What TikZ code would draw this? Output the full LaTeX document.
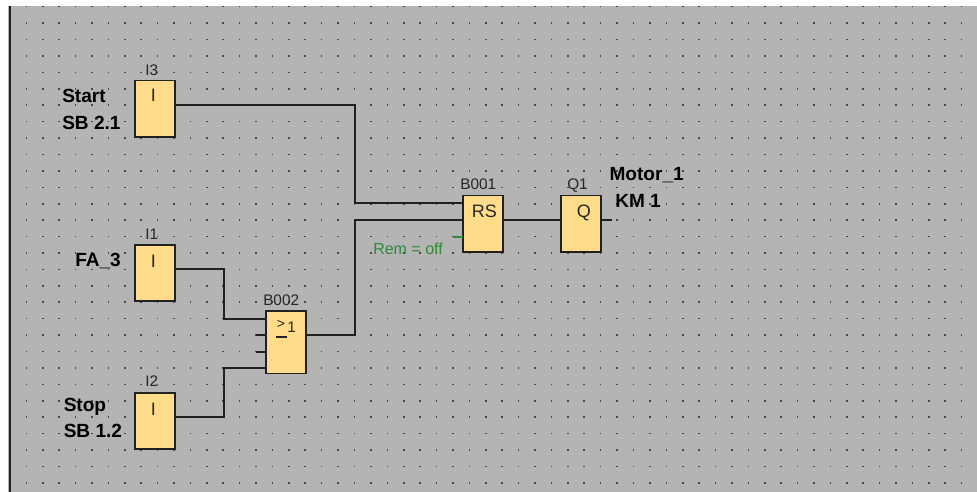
\documentclass[tikz,border=0pt]{standalone}
\usepackage{fontspec}
\setmainfont{Liberation Sans}
\definecolor{bggrey}{HTML}{B4B4B4}
\definecolor{blockfill}{HTML}{FFDC8A}
\definecolor{wirecol}{HTML}{202020}
\definecolor{remgreen}{HTML}{2E8B3A}
\tikzset{
  x=0.75pt,y=-0.75pt,
  block/.style={draw=wirecol,fill=blockfill,line width=1.2pt,rectangle,minimum width=30pt,inner sep=0pt,outer sep=0pt},
  wire/.style={draw=wirecol,line width=1.1pt},
  stub/.style={draw=wirecol,line width=1.1pt},
  greenstub/.style={draw=remgreen,line width=1.1pt},
  sym/.style={font=\fontsize{13.5}{14}\selectfont,text=black!85,inner sep=0pt,anchor=base west},
  tag/.style={font=\fontsize{11.5}{12}\selectfont,text=black!85,inner sep=0pt,anchor=base west},
  lab/.style={font=\fontsize{14.3}{15}\selectfont\bfseries,text=black,inner sep=0pt,anchor=base west},
}
\begin{document}
\begin{tikzpicture}
\useasboundingbox (0,0) rectangle (977,492);
\fill[white] (0,0) rectangle (977,492);
\fill[bggrey] (8,6) rectangle (977,492);
\draw[line width=1.5pt,draw=wirecol] (10,6) -- (10,492);
\foreach \i in {0,...,57}{\foreach \j in {0,...,29}{
  \fill[black!72] ({26.3+16.41*\i-0.8},{6.7+16.42*\j-0.8}) rectangle +(1.6,1.6);
}}
% blocks
\node[block,minimum height=42.3pt,anchor=north west] (i3) at (135,80.5) {};
\node[block,minimum height=42pt,anchor=north west] (i1) at (135,245) {};
\node[block,minimum height=42pt,anchor=north west] (i2) at (135,392.7) {};
\node[block,minimum height=47pt,anchor=north west] (b2) at (266,310.7) {};
\node[block,minimum height=42.3pt,anchor=north west] (b1) at (463,195.3) {};
\node[block,minimum height=42.3pt,anchor=north west] (q1) at (561,195.3) {};
\coordinate (j1) at (355,203);
\coordinate (j2) at (355,220);
\coordinate (qe) at (612,220);
\coordinate (ge) at (453,237);
\coordinate (s1) at (256,335);
\coordinate (s2) at (256,352);
% wires
\draw[wire] (i3.east |- 0,105) -- (355,105) -- (j1) -- (b1.west |- j1);
\draw[wire] (b2.east |- 0,335) -- (355,335) -- (j2) -- (b1.west |- j2);
\draw[wire] (b1.east |- j2) -- (q1.west |- j2);
\draw[wire] (q1.east |- qe) -- (qe);
\draw[wire] (i1.east |- 0,269) -- (224,269) -- (224,319) -- (b2.west |- 0,319);
\draw[wire] (i2.east |- 0,417) -- (224,417) -- (224,368) -- (b2.west |- 0,368);
\draw[stub] (s1) -- (b2.west |- s1);
\draw[stub] (s2) -- (b2.west |- s2);
\draw[greenstub] (ge) -- (b1.west |- ge);
% block symbols
\node[sym] (si3) at (150.5,101.5) {I};
\node[sym] (si1) at (150.5,267.5) {I};
\node[sym] (si2) at (150.5,415) {I};
\node[sym] (srs) at (471.5,217.7) {RS};
\node[sym] (sq) at (576.5,217.7) {Q};
\node[sym,font=\fontsize{10.5}{11}\selectfont] (sgt) at (276.5,328) {>};
\node[sym,font=\fontsize{11.5}{12}\selectfont] (sone) at (287,332) {1};
\coordinate (ua) at (275.5,337);
\coordinate (ub) at (287,337);
\draw[stub] (ua) -- (ub);
% tags
\node[tag] (t3) at (145,75) {I3};
\node[tag] (t1) at (145,239.3) {I1};
\node[tag] (t2) at (145,386.7) {I2};
\node[tag] (tb2) at (263,305) {B002};
\node[tag] (tb1) at (460,189) {B001};
\node[tag] (tq) at (567,189) {Q1};
\node[tag,text=remgreen,font=\fontsize{12}{12}\selectfont] (rem) at (373,254) {Rem = off};
% labels
\node[lab] (l1) at (62,103) {Start};
\node[lab] (l2) at (62,129) {SB 2.1};
\node[lab] (l3) at (75,266.7) {FA\_3};
\node[lab] (l4) at (63.5,411.7) {Stop};
\node[lab] (l5) at (63.5,437.7) {SB 1.2};
\node[lab] (l6) at (609.3,180.7) {Motor\_1};
\node[lab] (l7) at (615,207.3) {KM 1};
\end{tikzpicture}
\end{document}
